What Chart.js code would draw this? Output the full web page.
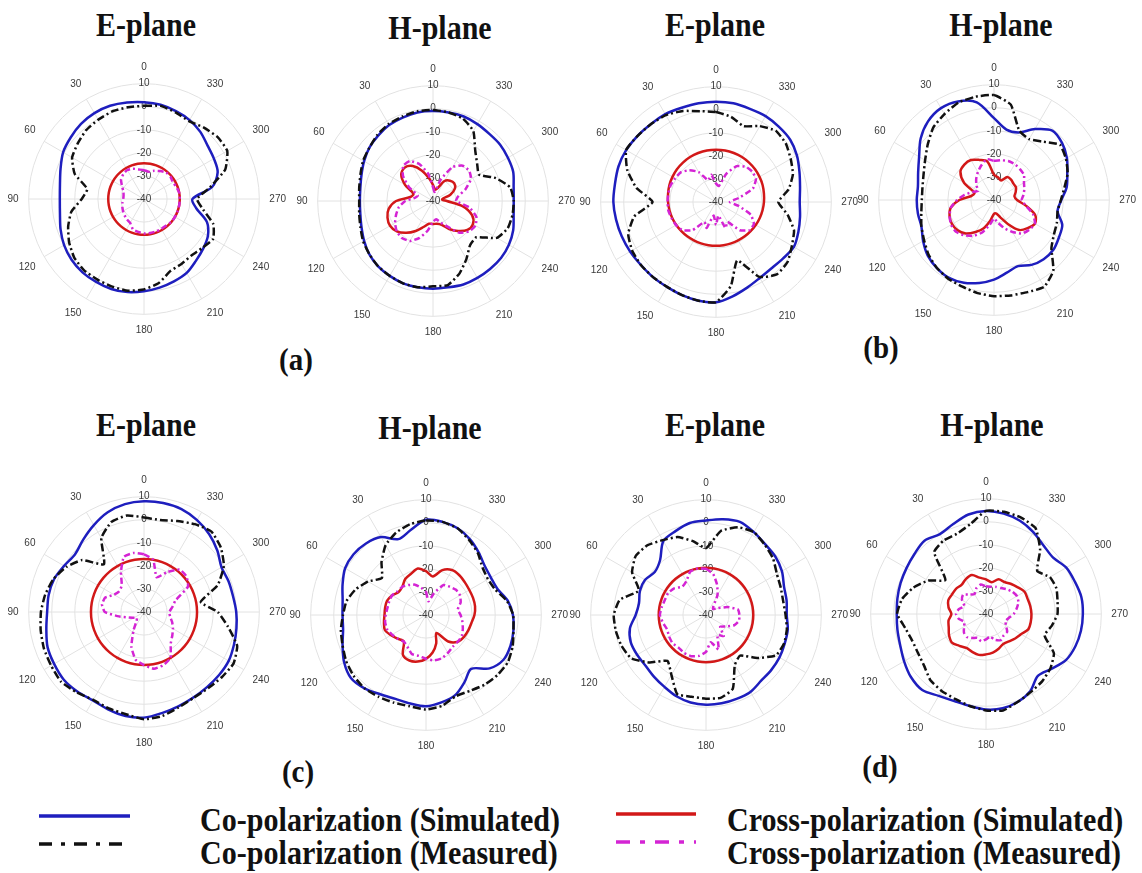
<!DOCTYPE html>
<html>
<head>
<meta charset="utf-8">
<script src="https://cdn.jsdelivr.net/npm/chart.js@4.4.1/dist/chart.umd.min.js"></script>
<style>
  html, body { margin: 0; padding: 0; background: #ffffff; }
  body { width: 1142px; height: 873px; position: relative; overflow: hidden; }
  .plot { position: absolute; }
  .serif {
    position: absolute; white-space: nowrap; color: #111;
    font-family: "Liberation Serif", "Times New Roman", serif; font-weight: bold;
    line-height: 1;
  }
  .title { font-size: 30px; transform: translate(-50%, -50%) scaleY(1.1); }
  .tag { font-size: 29px; transform: translate(-50%, -50%) scaleY(1.1); }
  .leg { font-size: 31px; transform-origin: left center; transform: translateY(-50%) scale(0.97, 1.12); }
  svg.sample { position: absolute; overflow: visible; }
</style>
</head>
<body>

<!-- panel titles -->
<div class="serif title" style="left:146px; top:25px;">E-plane</div>
<div class="serif title" style="left:440px; top:28px;">H-plane</div>
<div class="serif title" style="left:715px; top:25px;">E-plane</div>
<div class="serif title" style="left:1001px; top:25px;">H-plane</div>
<div class="serif title" style="left:146px; top:425px;">E-plane</div>
<div class="serif title" style="left:430px; top:428px;">H-plane</div>
<div class="serif title" style="left:715px; top:425px;">E-plane</div>
<div class="serif title" style="left:992px; top:425px;">H-plane</div>

<!-- sub-figure tags -->
<div class="serif tag" style="left:296px; top:360px;">(a)</div>
<div class="serif tag" style="left:881px; top:348px;">(b)</div>
<div class="serif tag" style="left:298px; top:772px;">(c)</div>
<div class="serif tag" style="left:880px; top:767px;">(d)</div>

<!-- polar panels -->
<div class="plot" id="p1"><canvas id="c1"></canvas></div>
<div class="plot" id="p2"><canvas id="c2"></canvas></div>
<div class="plot" id="p3"><canvas id="c3"></canvas></div>
<div class="plot" id="p4"><canvas id="c4"></canvas></div>
<div class="plot" id="p5"><canvas id="c5"></canvas></div>
<div class="plot" id="p6"><canvas id="c6"></canvas></div>
<div class="plot" id="p7"><canvas id="c7"></canvas></div>
<div class="plot" id="p8"><canvas id="c8"></canvas></div>

<!-- legend -->
<svg class="sample" style="left:39px; top:806px;" width="92" height="20">
  <line x1="0" y1="10" x2="91" y2="10" stroke="#1e1ebe" stroke-width="3.4"/>
</svg>
<svg class="sample" style="left:39px; top:834px;" width="92" height="20">
  <line x1="0" y1="10" x2="91" y2="10" stroke="#111" stroke-width="3.4" stroke-dasharray="13 9 4 9"/>
</svg>
<svg class="sample" style="left:616px; top:804px;" width="80" height="20">
  <line x1="0" y1="10" x2="80" y2="10" stroke="#d21818" stroke-width="3.4"/>
</svg>
<svg class="sample" style="left:616px; top:832px;" width="80" height="20">
  <line x1="0" y1="10" x2="80" y2="10" stroke="#d424d4" stroke-width="3.4" stroke-dasharray="14 10 5 10"/>
</svg>
<div class="serif leg" style="left:200px; top:819px;">Co-polarization (Simulated)</div>
<div class="serif leg" style="left:200px; top:852px;">Co-polarization (Measured)</div>
<div class="serif leg" style="left:727px; top:819px;">Cross-polarization (Simulated)</div>
<div class="serif leg" style="left:727px; top:852px;">Cross-polarization (Measured)</div>

<script>
// Measurement angles in degrees, counted counter-clockwise from the top (0 deg).
const STEP_ANGLES = [0, 10, 20, 30, 40, 50, 60, 70, 80, 90, 100, 110, 120, 130, 140, 150, 160, 170,
                     180, 190, 200, 210, 220, 230, 240, 250, 260, 270, 280, 290, 300, 310, 320, 330, 340, 350];
// Angles that get a spoke and a label.
const ANGLE_TICKS = [0, 30, 60, 90, 120, 150, 180, 210, 240, 270, 300, 330];
// Radial dB ticks.
const DB_TICKS = [-40, -30, -20, -10, 0, 10];

// ---- (a) E-plane, gain in dB ----
const aE_coSim  = [2, 2.5, 3, 3, 2.5, 1.5, 0.5, -1.5, -3, -3.5, -3, -1.5, 0, 1, 1.5, 1.5, 1.5, 1,
                   0, -1, -2, -3, -5, -6.5, -8, -11, -17, -19, -10, -6, -5, -4, -2, -0.5, 0.5, 1.5];
const aE_coMeas = [0.4, 0.4, 0.4, -0.3, -1, -2.5, -4, -8, -15, -13, -8, -5, -2.5, -0.5, 0.4, 0.4, 0.4, 0.4,
                   -0.8, -3, -6.7, -7.5, -8, -7, -5.4, -8, -14, -17, -11, -2.5, 1.7, 1.7, 0.4, -1, 0, 1];
const aE_xSim   = [-24.5, -24.5, -24.5, -24.5, -24.5, -24.5, -24.5, -24.5, -24.5, -24.5, -24.5, -24.5,
                   -24.5, -24.5, -24.5, -24.5, -24.5, -24.5, -24.5, -24.5, -24.5, -24.5, -24.5, -24.5,
                   -24.5, -24.5, -24.5, -24.5, -24.5, -24.5, -24.5, -24.5, -24.5, -24.5, -24.5, -24.5];
const aE_xMeas  = [-27.5, -27, -26, -25.5, -26, -27, -29, -30.5, -31, -31, -30.5, -30, -29.5, -29, -28.5, -28, -26, -25.5,
                   -25, -25, -25, -25, -25, -24.5, -24.5, -24.5, -24.5, -24.5, -24.5, -25, -25.5, -25, -25, -26, -27, -28];

// ---- (a) H-plane ----
const aH_coSim  = [-1, -1, -1.5, -2, -3, -4, -5.5, -7, -8, -8.3, -8, -7, -5.5, -4, -3, -2.5, -2, -2,
                   -2, -2, -1.5, -1.5, -1.5, -1.5, -2, -3, -4.5, -5, -4.5, -3, -2.5, -2, -2, -1.5, -1, -1];
const aH_coMeas = [-0.5, -0.5, -1, -1.5, -2.5, -4, -5, -6.5, -7.5, -8, -7.5, -6.5, -5, -4, -3, -2.5, -2, -2,
                   -3, -3, -6.5, -11, -15, -15.5, -8, -5.5, -5, -5, -6, -11, -17, -15, -11.5, -5, -2, -1];
const aH_xSim   = [-33, -30, -26, -22.5, -21, -22, -26, -31, -30, -24, -20.5, -19, -18.5, -19.5, -22, -25, -28, -30,
                   -30, -30, -29, -26, -23, -20.5, -20, -22, -27, -34, -36, -32, -29, -28, -28.5, -30, -34, -35];
const aH_xMeas  = [-34, -28, -23, -20, -20, -23, -28, -33, -32, -28, -25, -23, -21, -19.5, -19, -20, -23, -27,
                   -31, -32, -30, -27, -22, -19.5, -18.7, -20, -24, -30, -29, -25, -21, -19.5, -20, -23, -30, -36];

// ---- (b) E-plane ----
const bE_coSim  = [3.5, 3.5, 3.5, 4, 4, 4.5, 5, 5, 4.5, 4.5, 4, 3.5, 3, 2.5, 2.5, 2.5, 3, 3.5,
                   3.5, 1.5, -0.5, -2, -2.5, -2, -1, -2, -3, -3.7, -3, -1.5, 0.5, 2, 2.5, 3, 3, 3.5];
const bE_coMeas = [-1, 0, 2, 3.5, 4, 4.5, 5, 1, -5, -12.5, -4, 0.5, 2, 2.5, 2.5, 2.5, 3, 3.5,
                   3.5, -3, -13, -2.5, 1, 0.5, -2, -4, -8.5, -13, -8, -4.5, -2.6, -0.5, 0.3, -2, -5, -2.5];
const bE_xSim   = [-17.3, -17.3, -17.4, -17.5, -17.7, -17.9, -18.2, -18.5, -18.9, -19.2, -19.5, -19.8,
                   -20.1, -20.4, -20.6, -20.8, -20.9, -21, -21, -21, -20.9, -20.8, -20.6, -20.4,
                   -20.1, -19.8, -19.5, -19.2, -18.9, -18.5, -18.2, -17.9, -17.7, -17.5, -17.4, -17.3];
const bE_xMeas  = [-32, -28, -30, -25, -22, -20, -19.5, -19, -19, -19, -19, -19.5, -20, -21, -24, -30, -28, -34,
                   -30, -34, -28, -30, -24, -21, -21, -24, -30, -34, -30, -23, -20, -19.5, -20, -22, -27, -33];

// ---- (b) H-plane ----
const bH_coSim  = [-4.5, 3, 5.5, 6, 4.5, 1.5, -2.5, -5, -6.5, -6.5, -6.5, -6.5, -4.5, -2.5, -1.5, -1, -1.8, -3.5,
                   -5.5, -8, -9.5, -7.5, -6.5, -6.4, -7.5, -8.5, -12, -10.8, -8, -6.2, -3.5, -1.5, -0.7, -4.5, -8.8, -9];
const bH_coMeas = [5.5, 5.5, 5, 3, 1, -2.5, -5.5, -7.5, -8.5, -8.7, -8, -6.5, -5, -3, -1.5, -0.5, 0, 1,
                   1.7, 2, 2.5, 3.5, 0, -7.5, -10, -11, -12, -11, -9, -6, -4, -2.7, -7, -9.5, -8, 2];
const bH_xSim   = [-29, -23, -21.5, -20, -20, -21, -25, -31, -30, -25, -21, -19.5, -19, -19.5, -21, -24, -27, -31,
                   -34, -34, -32, -28, -23, -21, -19.5, -21, -26, -30, -31, -30, -29, -29, -28.5, -28.5, -31, -30];
const bH_xMeas  = [-23, -22, -24, -26, -28, -30, -32, -30, -27, -24, -21, -19.5, -18.5, -18.5, -20, -22, -25, -29,
                   -32, -30, -27, -24, -21, -20, -19.5, -22, -26, -28, -27, -26, -25, -23, -22.5, -22, -22, -22.5];

// ---- (c) E-plane ----
const cE_coSim  = [8, 7.5, 6, 3.5, 1, -1, 0, 1.5, 2, 2, 3, 4.5, 5, 5.5, 5, 4.3, 5, 5.8,
                   5.8, 4.5, 3.5, 2.8, 2.5, 2.5, 2.4, 1.5, 0.7, 0, -0.8, -1, -1.2, 1.5, 4, 6, 7.5, 8];
const cE_coMeas = [1, 2.5, 1.5, -3, -13, -5, -1, 1.8, 3.5, 4.7, 5.5, 6.2, 6.5, 7, 5.5, 4, 4.5, 5,
                   6.5, 5.8, 4, 3, 3.2, 4, 4.8, 3, -3, -8, -15, -6, 0, 3.5, 5.5, 4, 2, 0.5];
const cE_xSim   = [-17, -17, -17, -17, -17, -17, -17, -17, -17, -17, -17, -17,
                   -17, -17, -17, -17, -17, -17, -17, -17, -17, -17, -17, -17,
                   -17, -17, -17, -17, -17, -17, -17, -17, -17, -17, -17, -17];
const cE_xMeas  = [-15, -14, -14.5, -20, -25, -26, -25, -22, -21.5, -23, -29, -33, -35, -36, -35, -31, -24, -19,
                   -17, -15, -15.5, -17, -22, -24, -25.5, -27, -28.5, -29, -27.5, -25.5, -18, -16, -16, -20, -24, -17];

// ---- (c) H-plane ----
const cH_coSim  = [1.3, -2.5, -5, -1, 0.5, 1, 0.5, -1.5, -3.3, -3.8, -3.5, -1.5, 1, 2.5, 1.5, -0.3, -1.3, -1,
                   -0.4, -1.5, -3, -6.5, -9.5, -4, -1.2, -1, -1.5, -2.3, -4, -7, -7.5, -6.8, -4.5, -2, 0, 1];
const cH_coMeas = [1, 0, -2, -5, -10, -15, -11, -7.5, -5, -4, -2.5, -1.5, 0, 1, 1.5, 1, 0.5, 0.2,
                   1, 0, -2.5, -2, -0.5, 0.5, 1, 0, -1.5, -2.2, -4.4, -8, -9, -8, -5, -2.5, 0, 1];
const cH_xSim   = [-21, -19.5, -21, -22, -24, -24.5, -23, -22, -22, -22, -21.5, -21, -22.5, -24, -25, -20, -19, -19.5,
                   -21, -23.5, -27, -31, -25, -22, -21, -20.5, -20, -19, -18.4, -18.3, -18.3, -18, -17.5, -17.5, -19.3, -23];
const cH_xMeas  = [-30, -28, -26, -25, -24, -24, -23, -23, -23, -22.5, -22, -22, -23, -24, -25, -24, -22, -22,
                   -21, -20, -20, -21, -22, -22, -22, -23, -24, -25, -26, -24, -23, -23, -24, -25, -30, -34];

// ---- (d) E-plane ----
const dE_coSim  = [1, 0.5, -1.3, -3, -9, -11, -9.5, -9.5, -10.5, -9.5, -6.5, -5.3, -5.5, -5.8, -5, -4, -2.5, -1.5,
                   -1.1, -1.1, -1.3, -1.5, -2.8, -3, -3.2, -3.7, -4, -5, -4.5, -4, -2, -0.7, 0, 1.5, 3, 2.2];
const dE_coMeas = [-11, -7.5, -4, -2.5, -0.5, -0.2, -3, -9, -2, 0, -0.3, -1, -2.5, -8, -14, -10, -3.5, -4,
                   -3.7, -3.5, -6, -15, -17, -11, -5, -4, -4.4, -5.5, -6, -5.5, -4.5, -2, -0.3, 1.5, 0.5, -3];
const dE_xSim   = [-19.5, -19.5, -19.5, -19.5, -19.5, -19.5, -19.5, -19.5, -19.5, -19.5, -19.5, -19.5,
                   -19.5, -19.5, -19.5, -19.5, -19.5, -19.5, -19.5, -19.5, -19.5, -19.5, -19.5, -19.5,
                   -19.5, -19.5, -19.5, -19.5, -19.5, -19.5, -19.5, -19.5, -19.5, -19.5, -19.5, -19.5];
const dE_xMeas  = [-20, -19.5, -20, -23, -24, -22, -21, -21, -20.5, -20, -21, -22, -21.5, -21, -21.5, -21, -21, -22,
                   -24, -28, -24, -30, -28, -32, -30, -27, -25.5, -25.5, -26, -30, -34, -36, -35, -30, -26, -22];

// ---- (d) H-plane ----
const dH_coSim  = [4.7, 3.8, 1.5, 0, 1.5, 0.5, -0.2, -0.6, -1, -1.3, -1, -0.4, 1, 2.5, 3, 1, 0.2, 0.5,
                   1.4, 1.5, 0.5, -1.5, -5, -3, 0, 1.2, 1.8, 2, 2, 1, 0.2, -2, -1.2, 1, 3, 4.2];
const dH_coMeas = [4.7, -0.5, -3, -3.2, -5, -17, -11, -6.5, -3, -1.5, -4.5, -6, -6, -5, -2.5, -1.5, -0.8, 0.5,
                   1.8, 2.5, 0.5, -1, -2, -3.5, -6, -13, -11, -9, -8.5, -7.5, -8, -11, -3.5, 3, 4.5, 5];
const dH_xSim   = [-25, -24, -22, -22.5, -23.5, -23, -23, -22.6, -23.5, -25, -23.5, -22.8, -21.5, -20.7, -22, -23, -22.5, -22,
                   -22.5, -23, -24, -25, -24.5, -23.5, -22.5, -20.5, -20.3, -20.3, -20.5, -20.8, -20.7, -22, -23, -24, -24, -26];
const dH_xMeas  = [-28, -27, -28, -30, -29, -27, -28, -30, -28, -27, -28, -30, -29, -27.5, -27, -28, -29, -28,
                   -29, -30, -28, -27, -28, -28, -30, -31, -30, -28, -26.5, -25, -24.5, -25, -26, -27, -27.5, -28];

// Panel centres on the page (pixels).
const PANELS = [
  { id: 'p1', canvas: 'c1', cx: 147, cy: 202, s: [aE_coSim, aE_coMeas, aE_xSim, aE_xMeas] },
  { id: 'p2', canvas: 'c2', cx: 436, cy: 204, s: [aH_coSim, aH_coMeas, aH_xSim, aH_xMeas] },
  { id: 'p3', canvas: 'c3', cx: 719, cy: 205, s: [bE_coSim, bE_coMeas, bE_xSim, bE_xMeas] },
  { id: 'p4', canvas: 'c4', cx: 997, cy: 203, s: [bH_coSim, bH_coMeas, bH_xSim, bH_xMeas] },
  { id: 'p5', canvas: 'c5', cx: 147, cy: 615, s: [cE_coSim, cE_coMeas, cE_xSim, cE_xMeas] },
  { id: 'p6', canvas: 'c6', cx: 429, cy: 618, s: [cH_coSim, cH_coMeas, cH_xSim, cH_xMeas] },
  { id: 'p7', canvas: 'c7', cx: 709, cy: 618, s: [dE_coSim, dE_coMeas, dE_xSim, dE_xMeas] },
  { id: 'p8', canvas: 'c8', cx: 989, cy: 617, s: [dH_coSim, dH_coMeas, dH_xSim, dH_xMeas] }
];

const BLUE = '#1e1ebe', BLACK = '#111111', RED = '#d21818', MAGENTA = '#d424d4';
const BOX_W = 284, BOX_H = 286;

// Radar charts run clockwise from the top; the angles here run counter-clockwise,
// so the spoke order is mirrored.
const CW_ORDER = STEP_ANGLES.map((_, k) => (STEP_ANGLES.length - k) % STEP_ANGLES.length);
const cwLabels = CW_ORDER.map(i => String(STEP_ANGLES[i]));
const cw = arr => CW_ORDER.map(i => arr[i]);
const isTick = lbl => ANGLE_TICKS.includes(Number(lbl));

function makePanel(p) {
  const box = document.getElementById(p.id);
  box.style.width = BOX_W + 'px';
  box.style.height = BOX_H + 'px';
  box.style.left = (p.cx - BOX_W / 2) + 'px';
  box.style.top = (p.cy - BOX_H / 2 - 3) + 'px';

  const line = (data, color, dash, order, tension) => ({
    data: cw(data), borderColor: color, borderWidth: 2.5, borderDash: dash,
    fill: false, pointRadius: 0, tension: tension, order: order
  });

  new Chart(document.getElementById(p.canvas), {
    type: 'radar',
    data: {
      labels: cwLabels,
      datasets: [
        line(p.s[0], BLUE, [], 3, 0.3),
        line(p.s[1], BLACK, [8, 3, 2, 3], 1, 0.15),
        line(p.s[2], RED, [], 4, 0.3),
        line(p.s[3], MAGENTA, [6, 3, 2, 3], 2, 0.15)
      ]
    },
    options: {
      responsive: true,
      maintainAspectRatio: false,
      animation: false,
      events: [],
      plugins: { legend: { display: false }, tooltip: { enabled: false } },
      layout: { padding: 0 },
      scales: {
        r: {
          min: DB_TICKS[0],
          max: DB_TICKS[DB_TICKS.length - 1],
          startAngle: 0,
          ticks: {
            stepSize: DB_TICKS[1] - DB_TICKS[0],
            showLabelBackdrop: false,
            backdropPadding: 0,
            color: '#3a3a3a',
            font: { family: 'Liberation Sans, Arial, sans-serif', size: 10 }
          },
          grid: { circular: true, color: '#e2e2e2', lineWidth: 1 },
          angleLines: {
            display: true,
            lineWidth: 1,
            color: ctx => (isTick(cwLabels[ctx.index]) ? '#e2e2e2' : 'rgba(0,0,0,0)')
          },
          pointLabels: {
            padding: 5,
            color: '#3a3a3a',
            font: { family: 'Liberation Sans, Arial, sans-serif', size: 10 },
            callback: lbl => (isTick(lbl) ? lbl : '')
          }
        }
      }
    }
  });
}

PANELS.forEach(makePanel);
</script>
</body>
</html>
